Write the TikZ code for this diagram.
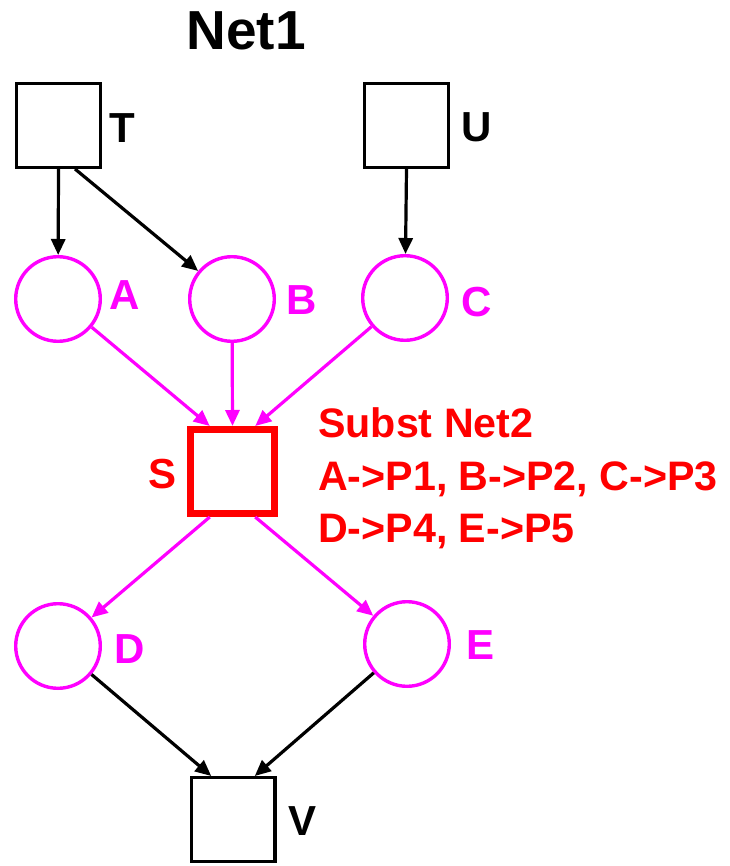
\documentclass[tikz,border=0pt]{standalone}
\usepackage{fontspec}
\setmainfont{Liberation Sans}
\usetikzlibrary{arrows.meta,calc}
\definecolor{pmag}{RGB}{255,0,255}
\definecolor{sred}{RGB}{255,0,0}
\begin{document}
\begin{tikzpicture}[x=1pt,y=-1pt,
  trans/.style={draw=black,line width=3.4pt,rectangle,minimum size=83.6pt,inner sep=0pt},
  place/.style={draw=pmag,line width=3.4pt,circle,minimum size=84.6pt,inner sep=0pt},
  subst/.style={draw=sred,line width=7pt,rectangle,minimum size=84pt,inner sep=0pt},
  lbl/.style={font=\bfseries\fontsize{42}{42}\selectfont,inner sep=0pt},
  rtext/.style={font=\bfseries\fontsize{41.2}{41.2}\selectfont,text=sred,inner sep=0pt,anchor=base west},
  arc/.style={line width=3.2pt,-{Triangle[length=16pt,width=14pt]}}]
\useasboundingbox (0,0) rectangle (729,866);
\node[font=\bfseries\fontsize{55}{55}\selectfont,inner sep=0pt] (title) at (246,31) {Net1};
\node[trans] (T) at (58.5,125.5) {};
\node[trans] (U) at (406.5,125.5) {};
\node[place] (A) at (58,299) {};
\node[place] (B) at (232,299) {};
\node[place] (C) at (405,298) {};
\node[subst] (S) at (232.5,471.5) {};
\node[place] (D) at (58,646) {};
\node[place] (E) at (407,644) {};
\node[trans] (V) at (233,819.5) {};
\node[lbl] (lT) at (122,128) {T};
\node[lbl] (lU) at (477,127) {U};
\node[lbl,text=pmag] (lA) at (125,295) {A};
\node[lbl,text=pmag] (lB) at (302,300) {B};
\node[lbl,text=pmag] (lC) at (477,302) {C};
\node[lbl,text=sred] (lS) at (163,474) {S};
\node[lbl,text=pmag] (lD) at (130,649) {D};
\node[lbl,text=pmag] (lE) at (480,645) {E};
\node[lbl] (lV) at (303,821) {V};
\node[rtext] (r1) at (318,437) {Subst Net2};
\node[rtext] (r2) at (318,490) {A->P1, B->P2, C->P3};
\node[rtext] (r3) at (318,542) {D->P4, E->P5};
\draw[arc] (T.south) -- (A);
\draw[arc] ($(T.south west)!0.69!(T.south east)$) -- (B);
\draw[arc] (U.south) -- (C);
\draw[arc,pmag] (A) -- ($(S.north west)!0.25!(S.north east)$);
\draw[arc,pmag] (B) -- (S.north);
\draw[arc,pmag] (C) -- ($(S.north west)!0.75!(S.north east)$);
\draw[arc,pmag] ($(S.south west)!0.25!(S.south east)$) -- (D);
\draw[arc,pmag] ($(S.south west)!0.75!(S.south east)$) -- (E);
\draw[arc] (D) -- ($(V.north west)!0.25!(V.north east)$);
\draw[arc] (E) -- ($(V.north west)!0.75!(V.north east)$);
\end{tikzpicture}
\end{document}
